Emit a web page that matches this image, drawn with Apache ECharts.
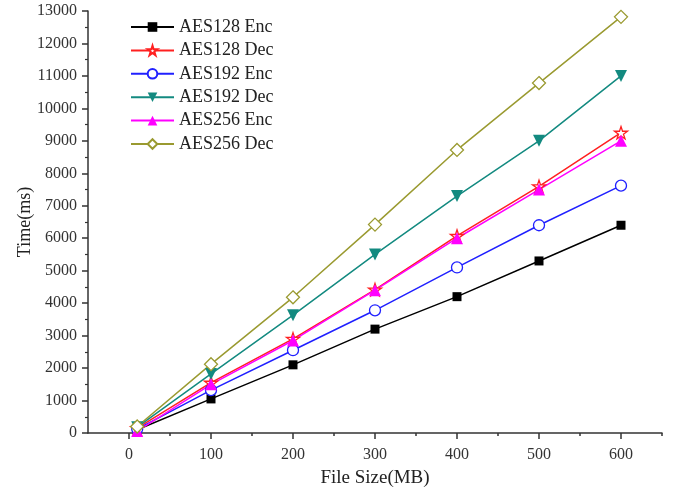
<!DOCTYPE html>
<html>
<head>
<meta charset="utf-8">
<script src="https://cdn.jsdelivr.net/npm/echarts@6/dist/echarts.min.js"></script>
<style>html,body{margin:0;padding:0;background:#fff}#c{width:682px;height:493px}</style>
</head>
<body>
<div id="c"></div>
<script>
var fileSizes = [10, 100, 200, 300, 400, 500, 600];
var aes128Enc = [100, 1050, 2100, 3200, 4200, 5300, 6400];
var aes128Dec = [150, 1550, 2900, 4420, 6070, 7600, 9250];
var aes192Enc = [120, 1320, 2550, 3780, 5100, 6400, 7620];
var aes192Dec = [180, 1820, 3630, 5500, 7300, 9000, 11000];
var aes256Enc = [60, 1500, 2850, 4400, 6000, 7500, 9000];
var aes256Dec = [200, 2120, 4180, 6420, 8720, 10780, 12820];
var seriesNames = ['AES128 Enc', 'AES128 Dec', 'AES192 Enc', 'AES192 Dec', 'AES256 Enc', 'AES256 Dec'];
var xMajorTicks = [0, 100, 200, 300, 400, 500, 600];
var xMinorTicks = [50, 150, 250, 350, 450, 550, 650];

var starPath = 'path://M100,0L122.45,69.1L195.1,69.1L136.3,111.8L158.8,180.9L100,138.2L41.2,180.9L63.7,111.8L4.9,69.1L77.55,69.1Z';
var font = 'Liberation Serif';

function pairs(vals) { return fileSizes.map(function (x, i) { return [x, vals[i]]; }); }

function mk(name, vals, color, symbol, opts) {
  opts = opts || {};
  return {
    name: name, type: 'line', data: pairs(vals), xAxisIndex: 0,
    symbol: symbol, symbolSize: opts.size || 10, symbolRotate: opts.rotate || 0,
    symbolKeepAspect: true,
    showAllSymbol: true,
    lineStyle: { color: color, width: 1.5 },
    itemStyle: { color: opts.hollow ? '#fff' : color, borderColor: color, borderWidth: opts.hollow ? 1.3 : 0 },
    emphasis: { disabled: true },
    animation: false
  };
}

var chart = echarts.init(document.getElementById('c'));
chart.setOption({
  backgroundColor: '#fff',
  animation: false,
  grid: { left: 88, right: 20, top: 11, bottom: 60 },
  legend: {
    orient: 'vertical', left: 125, top: 13,
    itemWidth: 43, itemHeight: 12, itemGap: 5.4,
    textStyle: { fontFamily: font, fontSize: 18, color: '#222' },
    data: seriesNames
  },
  xAxis: [{
    type: 'value', min: -50, max: 650,
    name: 'File Size(MB)', nameLocation: 'middle', nameGap: 36,
    nameTextStyle: { fontFamily: font, fontSize: 19, color: '#222' },
    axisLine: { show: true, onZero: false, lineStyle: { color: '#333', width: 1.5 } },
    axisTick: { show: true, customValues: xMajorTicks, length: 6, lineStyle: { color: '#333', width: 1.5 } },
    axisLabel: { customValues: xMajorTicks, fontFamily: font, fontSize: 16, color: '#333', margin: 14 },
    splitLine: { show: false }
  }, {
    type: 'value', min: -50, max: 650, position: 'bottom',
    axisLine: { show: false, onZero: false },
    axisTick: { show: true, customValues: xMinorTicks, length: 3, lineStyle: { color: '#333', width: 1.5 } },
    axisLabel: { show: false },
    splitLine: { show: false }
  }],
  yAxis: {
    type: 'value', min: 0, max: 13000, interval: 1000,
    name: 'Time(ms)', nameLocation: 'middle', nameGap: 54, nameMoveOverlap: false,
    nameTextStyle: { fontFamily: font, fontSize: 18, color: '#222' },
    axisLine: { show: true, onZero: false, lineStyle: { color: '#333', width: 1.5 } },
    axisTick: { show: true, length: 6, lineStyle: { color: '#333', width: 1.5 } },
    minorTick: { show: true, splitNumber: 2, length: 3, lineStyle: { color: '#333', width: 1.2 } },
    axisLabel: { fontFamily: font, fontSize: 16, color: '#333', margin: 11, formatter: function (v) { return String(v); } },
    splitLine: { show: false }
  },
  series: [
    mk(seriesNames[0], aes128Enc, '#000000', 'rect', { size: 9 }),
    mk(seriesNames[1], aes128Dec, '#ff2020', starPath, { size: 13, hollow: true }),
    mk(seriesNames[2], aes192Enc, '#2020ff', 'circle', { size: 11, hollow: true }),
    mk(seriesNames[3], aes192Dec, '#138a80', 'triangle', { size: 12, rotate: 180 }),
    mk(seriesNames[4], aes256Enc, '#ff00ff', 'triangle', { size: 12 }),
    mk(seriesNames[5], aes256Dec, '#9a9a30', 'diamond', { size: 13, hollow: true })
  ]
});
</script>
</body>
</html>
